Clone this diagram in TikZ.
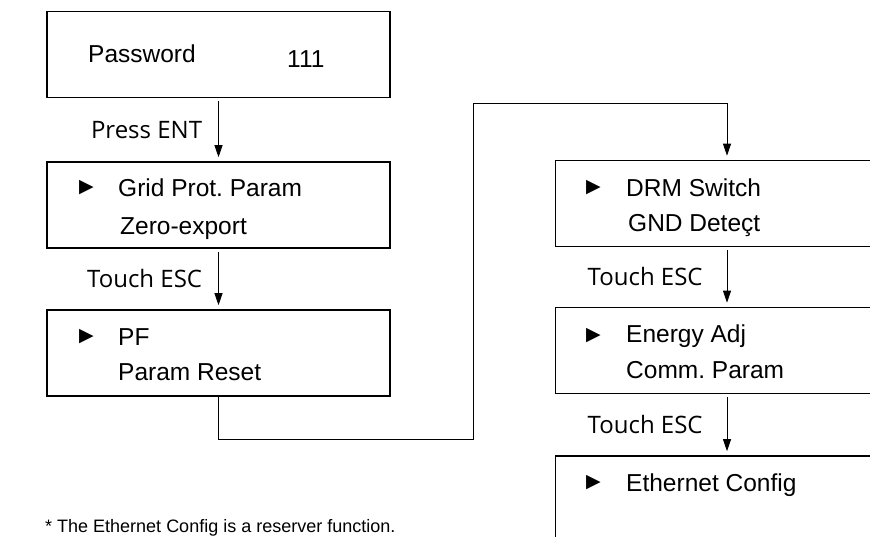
\documentclass[tikz,border=0pt]{standalone}
\usepackage{fontspec}
\setmainfont{Liberation Sans}
\newfontfamily\keyfont{Open Sans}
\newfontfamily\symfont{DejaVu Sans}
\usetikzlibrary{positioning,arrows.meta}
\frenchspacing

\tikzset{
  menu/.style={draw, line width=1.6pt, minimum width=343pt, minimum height=86pt, inner sep=0pt},
  item/.style={anchor=base west, inner sep=0pt, font=\fontsize{24.5}{28}\selectfont},
  pointer/.style={anchor=west, inner sep=0pt, font=\symfont\fontsize{19}{22}\selectfont},
  keylabel/.style={left=16pt, inner sep=0pt, font=\keyfont\fontsize{24}{26}\selectfont},
  flow/.style={-{Triangle[length=12pt,width=8pt]}, line width=0.8pt, shorten >=4pt, shorten <=3pt}
}

\begin{document}
\begin{tikzpicture}[x=1pt,y=-1pt]
  \useasboundingbox (0,0) rectangle (870,537);
  \clip (0,0) rectangle (870,537);

  % left column
  \node[menu] (pw)   at (218.5,54.5) {};
  \node[menu] (grid) at (218.5,205)  {};
  \node[menu] (pf)   at (218.5,353)  {};

  % right column
  \node[menu] (drm)    at (727,203.5) {};
  \node[menu] (energy) at (727,350.5) {};
  \node[menu] (eth)    at (727,499)   {};

  % menu entries
  \node[item] (pwtext) at (88,63)  {Password};
  \node[item] (pwval)  at (287,68) {111};

  \node[pointer] (gridptr) at (79,188) {▶};
  \node[item] (gridtext) at (118,197) {Grid Prot. Param};
  \node[item] (zerotext) at (120,235) {Zero-export};

  \node[pointer] (pfptr) at (79,337) {▶};
  \node[item] (pftext)    at (118,345) {PF};
  \node[item] (resettext) at (118,380) {Param Reset};

  \node[pointer] (drmptr) at (586,188) {▶};
  \node[item] (drmtext) at (626,197) {DRM Switch};
  \node[item] (gndtext) at (628,232) {GND Deteçt};

  \node[pointer] (energyptr) at (586,336) {▶};
  \node[item] (energytext) at (626,342) {Energy Adj};
  \node[item] (commtext)   at (626,378) {Comm. Param};

  \node[pointer] (ethptr) at (586,483) {▶};
  \node[item] (ethtext) at (626,491) {Ethernet Config};

  \node[anchor=base west, inner sep=0pt, font=\fontsize{18}{20}\selectfont] (note) at (45,532)
    {* The Ethernet Config is a reserver function.};

  % connectors
  \coordinate (low)  at (473,439);
  \coordinate (high) at (473,103);

  \draw[flow] (pw) -- node[keylabel] {Press ENT} (grid);
  \draw[flow] (grid) -- node[keylabel] {Touch ESC} (pf);
  \draw[flow, shorten <=0pt] (pf.south) |- (low) -- (high) -| (drm.north);
  \draw[flow] (drm) -- node[keylabel, left=24pt] {Touch ESC} (energy);
  \draw[flow] (energy) -- node[keylabel, left=24pt] {Touch ESC} (eth);
\end{tikzpicture}
\end{document}
